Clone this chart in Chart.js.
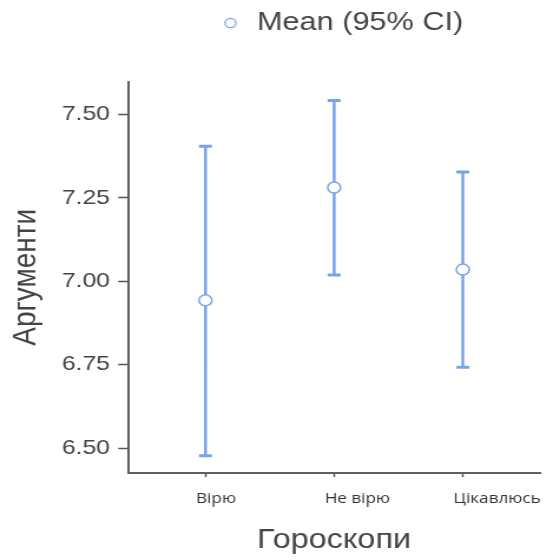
<!DOCTYPE html>
<html lang="uk">
<head>
  <meta charset="UTF-8">
  <title>Аргументи за гороскопами</title>
  <script src="https://cdn.jsdelivr.net/npm/chart.js"></script>
  <style>
    html, body { margin: 0; padding: 0; background: #fff; }
    /* the reference is a horizontally stretched picture, so the chart is drawn narrower and stretched back */
    #wrap { width: 469px; height: 560px; transform: scaleX(1.1791); transform-origin: 0 0; }
  </style>
</head>
<body>
  <div id="wrap"><canvas id="chart"></canvas></div>

  <script>
    // data
    const categories = ['Вірю', 'Не вірю', 'Цікавлюсь'];
    const means = [6.943, 7.281, 7.035];
    const ciLower = [6.477, 7.019, 6.742];
    const ciUpper = [7.405, 7.542, 7.328];
    const yTicks = [6.50, 6.75, 7.00, 7.25, 7.50];

    const blue = '#77a3e8';

    // legend marker: small open circle, drawn a bit right of the box centre
    const marker = document.createElement('canvas');
    marker.width = 24;
    marker.height = 12;
    const mctx = marker.getContext('2d');
    mctx.beginPath();
    mctx.arc(18, 6, 4.6, 0, Math.PI * 2);
    mctx.fillStyle = '#fff';
    mctx.fill();
    mctx.lineWidth = 1.4;
    mctx.strokeStyle = blue;
    mctx.stroke();

    // whisker segments, broken by null points
    const whiskers = [];
    categories.forEach((c, i) => {
      whiskers.push({ x: i, y: ciLower[i] }, { x: i, y: ciUpper[i] }, { x: i, y: null });
    });
    const caps = [];
    categories.forEach((c, i) => {
      caps.push({ x: i, y: ciLower[i] }, { x: i, y: ciUpper[i] });
    });

    // extra room under the legend
    const legendGap = {
      id: 'legendGap',
      beforeInit(chart) {
        const fit = chart.legend.fit;
        chart.legend.fit = function () {
          fit.call(this);
          this.height += 35.5;
        };
      }
    };

    Chart.defaults.font.family = '"Liberation Sans", Arial, sans-serif';

    new Chart(document.getElementById('chart'), {
      type: 'scatter',
      data: {
        datasets: [
          {
            label: 'Mean (95% CI)',
            data: categories.map((c, i) => ({ x: i, y: means[i] })),
            pointRadius: 5.5,
            pointBorderWidth: 1.5,
            pointBackgroundColor: '#fff',
            pointBorderColor: blue,
            order: 0
          },
          {
            type: 'line',
            label: 'ci',
            data: whiskers,
            borderColor: blue,
            borderWidth: 2.5,
            pointRadius: 0,
            spanGaps: false,
            order: 2
          },
          {
            label: 'caps',
            data: caps,
            pointStyle: 'line',
            pointRadius: 5.5,
            pointBorderWidth: 3,
            pointBorderColor: blue,
            order: 1
          }
        ]
      },
      options: {
        responsive: true,
        maintainAspectRatio: false,
        animation: false,
        layout: { padding: { left: 3.5, right: 11, top: 0, bottom: 0 } },
        plugins: {
          tooltip: { enabled: false },
          legend: {
            position: 'top',
            fullSize: false,
            labels: {
              filter: (item) => item.datasetIndex === 0,
              usePointStyle: true,
              pointStyle: marker,
              pointStyleWidth: 31,
              padding: 10,
              color: '#444',
              font: { size: 26 }
            }
          }
        },
        scales: {
          x: {
            type: 'linear',
            min: -0.6,
            max: 2.6,
            afterBuildTicks: (axis) => { axis.ticks = categories.map((c, i) => ({ value: i })); },
            afterFit: (axis) => { axis.paddingLeft = 0; axis.paddingRight = 0; },
            grid: { display: true, drawOnChartArea: false, drawTicks: true, tickLength: 4, tickColor: '#555', tickWidth: 1.5 },
            border: { display: true, color: '#5f5f5f', width: 2 },
            ticks: {
              callback: (v) => categories[v],
              align: 'start',
              labelOffset: -8,
              padding: 0,
              color: '#333',
              font: { family: '"Open Sans", sans-serif', size: 14.5, lineHeight: 3.03 }
            },
            title: {
              display: true,
              text: 'Гороскопи',
              color: '#444',
              font: { size: 27.5 },
              padding: { top: 2.5, bottom: 3.5 }
            }
          },
          y: {
            min: 6.425,
            max: 7.599,
            afterBuildTicks: (axis) => { axis.ticks = yTicks.map((v) => ({ value: v })); },
            grid: { display: true, drawOnChartArea: false, drawTicks: true, tickLength: 8.5, tickColor: '#555', tickWidth: 1.5 },
            border: { display: true, color: '#5f5f5f', width: 2 },
            ticks: {
              callback: (v) => v.toFixed(2),
              padding: 7,
              color: '#444',
              font: { size: 21 }
            },
            title: {
              display: true,
              text: 'Аргументи',
              color: '#444',
              font: { size: 28 },
              padding: { top: 1.5, bottom: 6.8 }
            }
          }
        }
      },
      plugins: [legendGap]
    });
  </script>
</body>
</html>
